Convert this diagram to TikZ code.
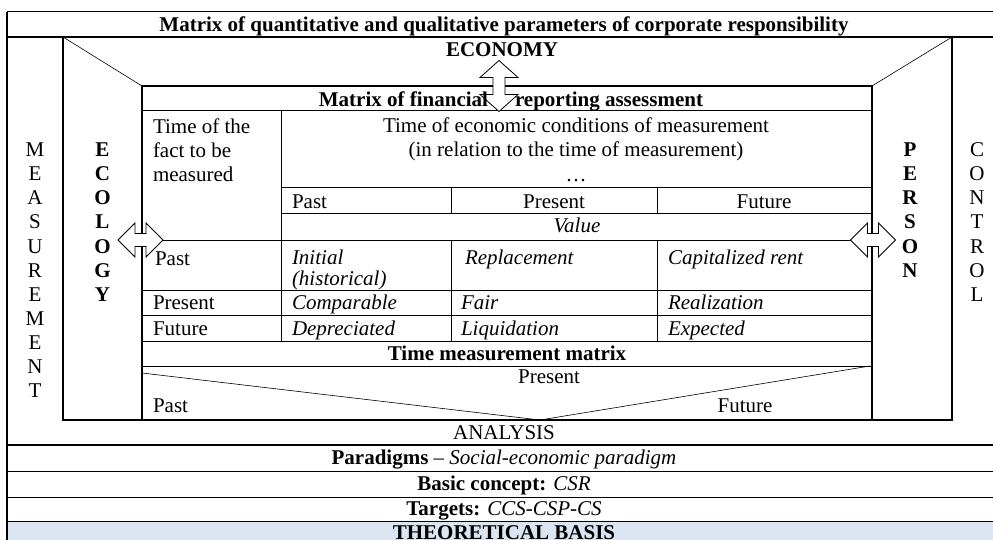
\documentclass[tikz,border=0pt]{standalone}
\usepackage{fontspec}
\setmainfont{Liberation Serif}
\definecolor{basisblue}{RGB}{219,229,241}
\begin{document}
\begin{tikzpicture}[x=1pt,y=-1pt,
  every node/.style={inner sep=0pt,outer sep=0pt},
  tx/.style={font=\fontsize{21}{24}\selectfont,anchor=base},
  txw/.style={tx,anchor=base west},
  txe/.style={tx,anchor=base east},
  bx/.style={tx,font=\fontsize{21}{24}\selectfont\bfseries},
  ix/.style={tx,font=\fontsize{21}{24}\selectfont\itshape},
  ixw/.style={ix,anchor=base west},
  rule/.style={line width=1pt},
  heavy/.style={line width=1.6pt},
  diag/.style={line width=0.6pt},
  arrowshape/.style={draw,fill=white,line width=0.8pt,line join=miter},
  hdarrow/.pic={\path[arrowshape] (-22.5,0) -- (-5.5,-17) -- (-5.5,-6.5) -- (5.5,-6.5) -- (5.5,-17) -- (22.5,0) -- (5.5,17) -- (5.5,6.5) -- (-5.5,6.5) -- (-5.5,17) -- cycle;},
  vdarrow/.pic={\path[arrowshape] (0,-25.5) -- (19,-8.5) -- (6,-8.5) -- (6,8.5) -- (19,8.5) -- (0,25.5) -- (-19,8.5) -- (-6,8.5) -- (-6,-8.5) -- (-19,-8.5) -- cycle;}
]
\useasboundingbox (0,0) rectangle (993,540);
% background fill of last row
\fill[basisblue] (7,521.5) rectangle (993,545);

% outer table
\draw[rule] (7,12) -- (993,12);
\draw[heavy] (7,37) -- (993,37);
\draw[heavy] (7,12) -- (7,545);
\draw[heavy] (7,445) -- (993,445);
\draw[rule] (7,471.5) -- (993,471.5);
\draw[rule] (7,497.5) -- (993,497.5);
\draw[rule] (7,521.5) -- (993,521.5);

% frame
\draw[heavy] (63,37) -- (63,420) -- (952,420) -- (952,37);
\draw[diag] (63,37) -- (142,86);
\draw[diag] (952,37) -- (872,86);

% inner table
\draw[heavy] (142,86) rectangle (872,420);
\draw[rule] (142,111) -- (872,111);
\draw[rule] (281,188) -- (872,188);
\draw[rule] (281,214) -- (872,214);
\draw[rule] (142,240) -- (872,240);
\draw[rule] (142,290) -- (872,290);
\draw[rule] (142,315.5) -- (872,315.5);
\draw[rule] (142,341) -- (872,341);
\draw[rule] (142,366) -- (872,366);
\draw[rule] (281,111) -- (281,341);
\draw[rule] (451,188) -- (451,214);
\draw[rule] (657,188) -- (657,214);
\draw[rule] (451,240) -- (451,341);
\draw[rule] (657,240) -- (657,341);
\coordinate (vl) at (142,373);
\coordinate (vb) at (540,420);
\coordinate (vr) at (870,366);
\draw[diag] (vl) -- (vb) -- (vr);

% arrows
\pic at (499,86) {vdarrow};
\pic at (140.5,240) {hdarrow};
\pic at (873,240) {hdarrow};

% texts
\node[bx] (title) at (504,32) {Matrix of quantitative and qualitative parameters of corporate responsibility};
\node[bx] (eco) at (502,57) {ECONOMY};
\node[bx,anchor=base east] (mf1) at (488,107) {Matrix of financial};
\node[bx,anchor=base west] (mf2) at (515,107) {reporting assessment};

\node[txw] (c1a) at (153,134) {Time of the};
\node[txw] (c1b) at (153,158) {fact to be};
\node[txw] (c1c) at (153,182) {measured};
\node[tx] (h1) at (576,133) {Time of economic conditions of measurement};
\node[tx] (h2) at (576,157) {(in relation to the time of measurement)};
\node[tx] (h3) at (576,182) {…};
\node[txw] (hp) at (292,209) {Past};
\node[tx] (hpr) at (554,209) {Present};
\node[tx] (hf) at (764,209) {Future};
\node[ix] (val) at (577,233) {Value};

\node[txw] (r1) at (155,265) {Past};
\node[ixw] (r1a) at (292,264) {Initial};
\node[ixw] (r1b) at (292,285) {(historical)};
\node[ixw] (r1c) at (465,264) {Replacement};
\node[ixw] (r1d) at (668,264) {Capitalized rent};

\node[txw] (r2) at (153,309.5) {Present};
\node[ixw] (r2a) at (292,309.5) {Comparable};
\node[ixw] (r2b) at (461,309.5) {Fair};
\node[ixw] (r2c) at (668,309.5) {Realization};

\node[txw] (r3) at (153,335) {Future};
\node[ixw] (r3a) at (292,335) {Depreciated};
\node[ixw] (r3b) at (461,335) {Liquidation};
\node[ixw] (r3c) at (668,335) {Expected};

\node[bx] (tmm) at (507,360.5) {Time measurement matrix};
\node[tx] (tp) at (549,383) {Present};
\node[txw] (tpa) at (153,412) {Past};
\node[tx] (tf) at (745,412) {Future};

\node[tx] (ana) at (504,439) {ANALYSIS};
\node[tx] (par) at (504,464) {\textbf{Paradigms} – \textit{Social-economic paradigm}};
\node[tx] (bas) at (504,490.5) {\textbf{Basic concept:} \textit{CSR}};
\node[tx] (tar) at (504,515.5) {\textbf{Targets:} \textit{CCS-CSP-CS}};
\node[bx] (theo) at (504,539) {THEORETICAL BASIS};

% vertical words
\foreach \ch [count=\i] in {M,E,A,S,U,R,E,M,E,N,T}
  \node[tx] (meas\i) at (35,133+24*\i) {\ch};
\foreach \ch [count=\i] in {E,C,O,L,O,G,Y}
  \node[bx] (ecol\i) at (102.5,133+24*\i) {\ch};
\foreach \ch [count=\i] in {P,E,R,S,O,N}
  \node[bx] (pers\i) at (910,133+24*\i) {\ch};
\foreach \ch [count=\i] in {C,O,N,T,R,O,L}
  \node[tx] (cont\i) at (977,133+24*\i) {\ch};
\end{tikzpicture}
\end{document}
